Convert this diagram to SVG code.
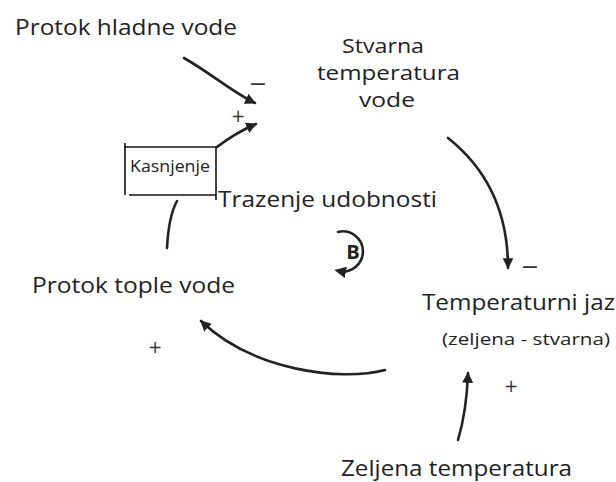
<svg xmlns="http://www.w3.org/2000/svg" width="616" height="482" viewBox="0 0 616 482">
  <style>
    .lbl { font-family: "Open Sans", "Noto Sans", "DejaVu Sans", sans-serif; fill: #222; }
    .big { font-size: 22px; }
    .stack { font-size: 19.5px; }
    .mid { font-size: 17px; }
    .sm { font-size: 16px; }
    .sign { font-family: "DejaVu Sans", sans-serif; fill: #333; text-anchor: middle; }
    .minus { font-size: 22px; }
    .plus { font-size: 17px; }
    .link { fill: none; stroke: #222; stroke-width: 2.6; stroke-linecap: round; }
    .box { stroke: #111; stroke-width: 1.6; fill: none; }
  </style>
  <defs>
    <marker id="head" viewBox="0 0 10 10" refX="9" refY="5" markerWidth="4.2" markerHeight="4.2" orient="auto" markerUnits="strokeWidth">
      <path d="M0,0 L10,5 L0,10 Z" fill="#222"/>
    </marker>
    <marker id="headSmall" viewBox="0 0 10 10" refX="6" refY="5" markerWidth="4.5" markerHeight="4.5" orient="auto" markerUnits="strokeWidth">
      <path d="M0,0 L10,5 L0,10 Z" fill="#222"/>
    </marker>
  </defs>

  <rect width="616" height="482" fill="#fff"/>

  <g id="protok-hladne-vode">
    <text class="lbl big" x="15" y="35" textLength="222" lengthAdjust="spacingAndGlyphs">Protok hladne vode</text>
  </g>

  <g id="stvarna-temperatura-vode">
    <text class="lbl stack" x="342" y="53" textLength="82" lengthAdjust="spacingAndGlyphs">Stvarna</text>
    <text class="lbl stack" x="317" y="80" textLength="143" lengthAdjust="spacingAndGlyphs">temperatura</text>
    <text class="lbl stack" x="359" y="107" textLength="56" lengthAdjust="spacingAndGlyphs">vode</text>
  </g>

  <g id="kasnjenje">
    <line class="box" x1="124" y1="147" x2="216" y2="147"/>
    <line class="box" x1="125" y1="143" x2="125" y2="195"/>
    <line class="box" x1="129" y1="195" x2="216" y2="195"/>
    <line class="box" x1="216" y1="147" x2="216" y2="200"/>
    <text class="lbl sm" x="130" y="172" textLength="80" lengthAdjust="spacingAndGlyphs">Kasnjenje</text>
  </g>

  <g id="trazenje-udobnosti">
    <text class="lbl big" x="218" y="207" textLength="219" lengthAdjust="spacingAndGlyphs">Trazenje udobnosti</text>
    <path class="link" d="M338,232 A20,20 0 1 1 339,271" stroke-width="2.2" marker-end="url(#headSmall)"/>
    <text x="353" y="259" text-anchor="middle" font-family="'Open Sans', 'DejaVu Sans', sans-serif" font-weight="bold" font-size="20" fill="#222">B</text>
  </g>

  <g id="protok-tople-vode">
    <text class="lbl big" x="32" y="293" textLength="203" lengthAdjust="spacingAndGlyphs">Protok tople vode</text>
  </g>

  <g id="temperaturni-jaz">
    <text class="lbl big" x="422" y="310" textLength="193" lengthAdjust="spacingAndGlyphs">Temperaturni jaz</text>
    <text class="lbl mid" x="442" y="345" textLength="168" lengthAdjust="spacingAndGlyphs">(zeljena - stvarna)</text>
  </g>

  <g id="zeljena-temperatura">
    <text class="lbl big" x="341" y="476" textLength="231" lengthAdjust="spacingAndGlyphs">Zeljena temperatura</text>
  </g>

  <g id="connectors">
    <path class="link" d="M184,58 C212,74 232,92 255,103" marker-end="url(#head)"/>
    <path class="link" d="M217,147 C230,137 242,130 256,124" marker-end="url(#head)"/>
    <path class="link" d="M448,138 C482,165 508,205 508,268" marker-end="url(#head)"/>
    <path class="link" d="M385,370 C340,382 252,370 201,321" marker-end="url(#head)"/>
    <path class="link" d="M458,440 C464,420 467,400 468,373" marker-end="url(#head)"/>
    <path class="link" d="M167,248 C168,228 171,212 177,201"/>
  </g>

  <g id="polarities">
    <text class="sign minus" x="258" y="91">−</text>
    <text class="sign plus" x="238" y="122">+</text>
    <text class="sign minus" x="530" y="274">−</text>
    <text class="sign plus" x="155" y="353">+</text>
    <text class="sign plus" x="511" y="392">+</text>
  </g>
</svg>
